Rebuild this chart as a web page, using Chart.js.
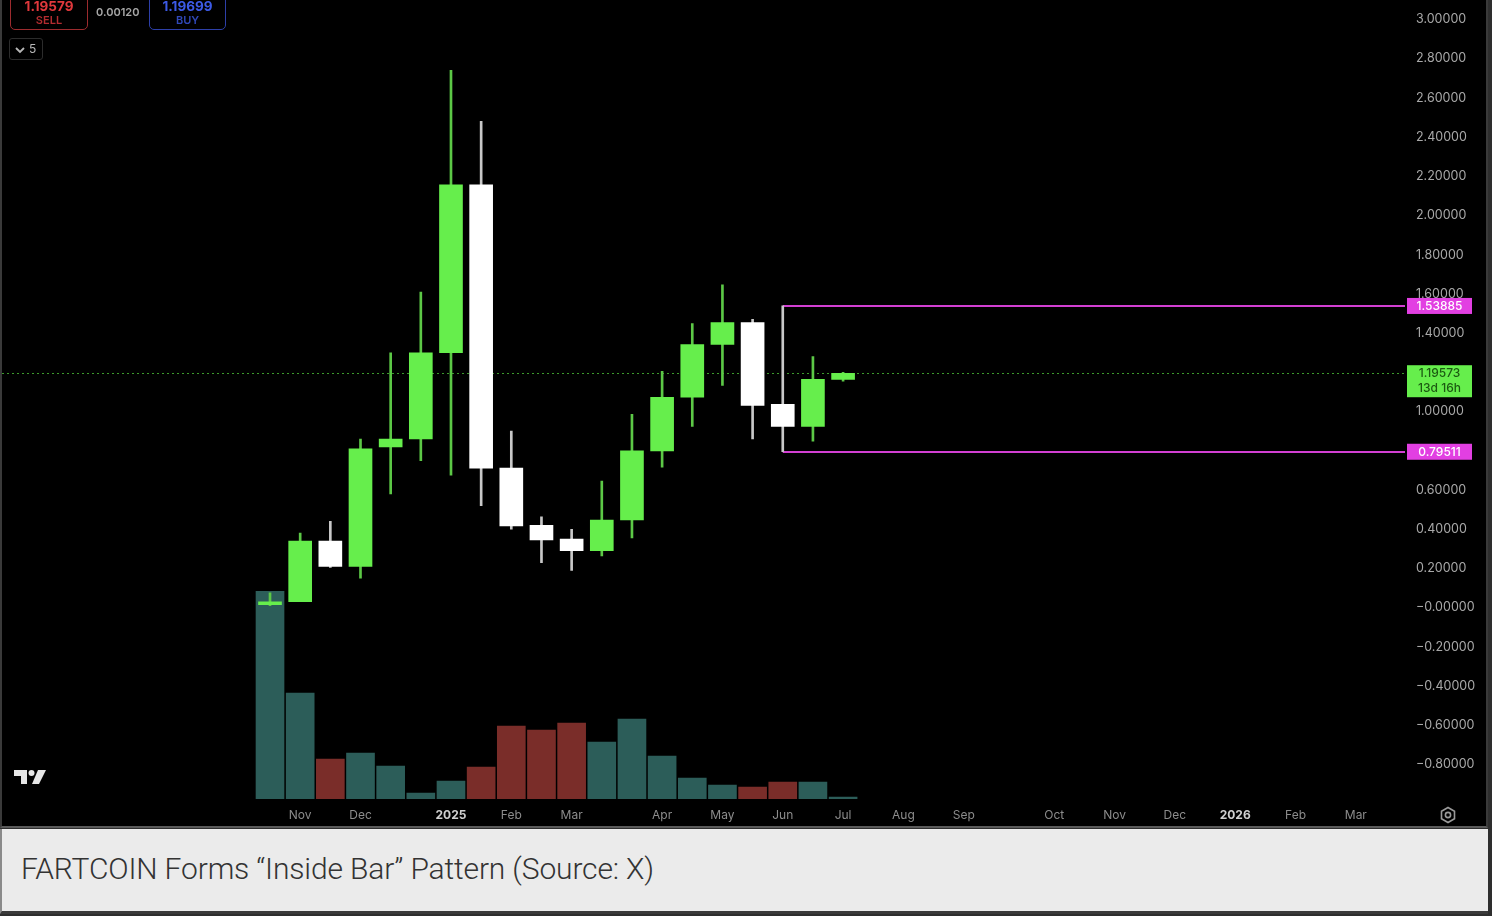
<!DOCTYPE html>
<html>
<head>
<meta charset="utf-8">
<script src="https://cdn.jsdelivr.net/npm/chart.js@4.4.1/dist/chart.umd.min.js"></script>
<style>
  html, body { margin: 0; padding: 0; }
  body { width: 1492px; height: 916px; position: relative; overflow: hidden; background: #2e2e2e; font-family: Inter, "Noto Sans", sans-serif; }
  #panel { position: absolute; left: 0; top: 0; width: 1484px; height: 826px; background: #000; border-left: 2px solid #3a3a3a; border-right: 2px solid #3a3a3a; border-bottom: 2px solid #5a5a5a; overflow: hidden; }
  #wrap { position: absolute; left: 0; top: 0; width: 1484px; height: 826px; }
  .box { position: absolute; border-radius: 5px; text-align: center; font-weight: 700; }
  #sell { left: 8px; top: -8px; width: 76px; height: 36px; border: 1.5px solid #9c2b2e; color: #e0383c; }
  #buy { left: 147px; top: -8px; width: 75px; height: 36px; border: 1.5px solid #2d3fa8; color: #3c5ae6; }
  .box .p { font-size: 13.5px; margin-top: 6px; line-height: 15px; }
  .box .s { font-size: 11px; line-height: 13px; font-weight: 600; opacity: 0.8; }
  #spread { position: absolute; left: 94px; top: 5px; font-size: 11px; color: #a8a8a8; font-weight: 600; }
  #drop { position: absolute; left: 7px; top: 38px; width: 32px; height: 20px; border: 1px solid #2c2c2c; border-radius: 3px; color: #b8b8b8; font-size: 12px; line-height: 20px; }
  #drop span { position: absolute; left: 19px; }
  #logo { position: absolute; left: 10px; top: 767px; }
  #gear { position: absolute; left: 1437px; top: 806px; }
  #caption { position: absolute; left: 0; top: 829px; width: 1486px; height: 82px; background: #ebebeb; border-left: 2px solid #8a8a8a; border-bottom: 3px solid #3a3a3a; }
  #caption div { position: absolute; left: 19px; top: 22px; font-family: Roboto, sans-serif; font-weight: 300; font-size: 30px; color: #333; letter-spacing: -0.15px; }
</style>
</head>
<body>
<div id="panel">
  <div id="wrap"><canvas id="chart"></canvas></div>
  <div id="sell" class="box"><div class="p">1.19579</div><div class="s">SELL</div></div>
  <div id="spread">0.00120</div>
  <div id="buy" class="box"><div class="p">1.19699</div><div class="s">BUY</div></div>
  <div id="drop"><svg width="10" height="8" style="position:absolute;left:5px;top:7px"><path d="M1 2 L5 6 L9 2" stroke="#b8b8b8" stroke-width="1.8" fill="none"/></svg><span>5</span></div>
  <svg id="logo" width="36" height="20" viewBox="0 0 36 20">
    <path d="M2 3 H15 V17 H9 V9 H2 Z" fill="#e6e6e6"/>
    <circle cx="19.5" cy="6" r="3" fill="#e6e6e6"/>
    <path d="M26 3 H34 L27 17 H20 Z" fill="#e6e6e6"/>
  </svg>
  <svg id="gear" width="18" height="18" viewBox="0 0 18 18">
    <path d="M9 1.5 L15.5 5.2 V12.8 L9 16.5 L2.5 12.8 V5.2 Z" stroke="#9a9a9a" stroke-width="1.6" fill="none"/>
    <circle cx="9" cy="9" r="2.6" stroke="#9a9a9a" stroke-width="1.6" fill="none"/>
  </svg>
</div>
<div id="caption"><div>FARTCOIN Forms “Inside Bar” Pattern (Source: X)</div></div>

<script>
// candles, one per slot
const opens  = [0.015, 0.03, 0.34, 0.21, 0.82, 0.86, 1.30, 2.156, 0.712, 0.42, 0.35, 0.29, 0.447, 0.80, 1.073, 1.342, 1.454, 1.037, 0.925, 1.164];
const closes = [0.03, 0.34, 0.21, 0.81, 0.86, 1.30, 2.156, 0.712, 0.417, 0.346, 0.29, 0.447, 0.80, 1.073, 1.342, 1.454, 1.032, 0.925, 1.164, 1.19573];
const highs  = [0.075, 0.38, 0.44, 0.86, 1.30, 1.61, 2.74, 2.48, 0.90, 0.463, 0.40, 0.646, 0.986, 1.205, 1.449, 1.647, 1.47, 1.53885, 1.281, 1.20];
const lows   = [0.01, 0.03, 0.205, 0.15, 0.58, 0.75, 0.676, 0.52, 0.40, 0.229, 0.19, 0.264, 0.356, 0.717, 0.925, 1.134, 0.86, 0.79511, 0.849, 1.155];
const volumes = [1040, 530, 200, 230, 165, 30, 90, 160, 365, 345, 380, 285, 400, 215, 105, 70, 60, 85, 85, 10];

// x axis labels and the slot they sit under
const tickIndex  = [1, 3, 6, 8, 10, 13, 15, 17, 19, 21, 23, 26, 28, 30, 32, 34, 36];
const tickLabels = ['Nov', 'Dec', '2025', 'Feb', 'Mar', 'Apr', 'May', 'Jun', 'Jul', 'Aug', 'Sep', 'Oct', 'Nov', 'Dec', '2026', 'Feb', 'Mar'];
const priceTicks = [3.0, 2.8, 2.6, 2.4, 2.2, 2.0, 1.8, 1.6, 1.4, 1.2, 1.0, 0.8, 0.6, 0.4, 0.2, 0.0, -0.2, -0.4, -0.6, -0.8];

// inside bar range + last price
const zoneStart = 17;
const zoneLevels = [1.53885, 0.79511];
const lastPrice = 1.19573;
const countdown = '13d 16h';

const GREEN = '#66ee4c';
const up = closes.map((c, i) => c >= opens[i]);

function fmtPrice(v) {
  if (Math.abs(v) < 1e-9) return '\u22120.00000';
  return v < 0 ? '\u2212' + Math.abs(v).toFixed(5) : v.toFixed(5);
}

const levelsPlugin = {
  id: 'levels',
  beforeDatasetsDraw(chart) {
    const ctx = chart.ctx, a = chart.chartArea, y = chart.scales.y, x = chart.scales.x;
    ctx.save();
    // last price dotted line
    ctx.strokeStyle = '#3c9a2c';
    ctx.lineWidth = 1;
    ctx.setLineDash([2, 3]);
    const ly = Math.round(y.getPixelForValue(lastPrice)) + 0.5;
    ctx.beginPath(); ctx.moveTo(0, ly); ctx.lineTo(a.right, ly); ctx.stroke();
    ctx.setLineDash([]);
    // inside bar range
    ctx.strokeStyle = '#d23fd2';
    ctx.lineWidth = 2;
    const x0 = x.getPixelForValue(zoneStart);
    zoneLevels.forEach(v => {
      const py = Math.round(y.getPixelForValue(v));
      ctx.beginPath(); ctx.moveTo(x0, py); ctx.lineTo(a.right, py); ctx.stroke();
    });
    ctx.restore();
  },
  afterDraw(chart) {
    const ctx = chart.ctx, a = chart.chartArea, y = chart.scales.y;
    ctx.save();
    ctx.font = '500 12px Inter, sans-serif';
    ctx.textAlign = 'center';
    ctx.textBaseline = 'middle';
    const bx = a.right + 2, bw = 65;
    zoneLevels.forEach(v => {
      const py = y.getPixelForValue(v);
      ctx.fillStyle = '#e23fe2';
      ctx.fillRect(bx, py - 8, bw, 16);
      ctx.fillStyle = '#ffffff';
      ctx.fillText(v.toFixed(5), bx + bw / 2, py + 0.5);
    });
    const py = y.getPixelForValue(lastPrice);
    ctx.fillStyle = GREEN;
    ctx.fillRect(bx, py - 8, bw, 32);
    ctx.fillStyle = '#1c5a12';
    ctx.fillText(lastPrice.toFixed(5), bx + bw / 2, py + 0.5);
    ctx.fillText(countdown, bx + bw / 2, py + 15.5);
    ctx.restore();
  }
};

const idx = opens.map((_, i) => i);

new Chart(document.getElementById('chart'), {
  type: 'bar',
  data: {
    datasets: [
      {
        label: 'body',
        data: idx.map(i => ({ x: i, y: [opens[i], closes[i]] })),
        backgroundColor: up.map(u => u ? GREEN : '#ffffff'),
        barThickness: 23,
        grouped: false,
        yAxisID: 'y',
        order: 1
      },
      {
        label: 'wick',
        data: idx.map(i => ({ x: i, y: [lows[i], highs[i]] })),
        backgroundColor: up.map(u => u ? '#5cc846' : '#c8c8c8'),
        barThickness: 2,
        grouped: false,
        yAxisID: 'y',
        order: 2
      },
      {
        label: 'volume',
        data: idx.map(i => ({ x: i, y: volumes[i] })),
        backgroundColor: up.map(u => u ? '#2c5d59' : '#7a2d29'),
        barThickness: 28,
        grouped: false,
        yAxisID: 'y2',
        order: 3
      }
    ]
  },
  options: {
    responsive: true,
    maintainAspectRatio: false,
    animation: false,
    layout: { padding: 0 },
    plugins: { legend: { display: false }, tooltip: { enabled: false } },
    scales: {
      x: {
        type: 'linear',
        min: -8.886,
        max: 37.63,
        offset: false,
        grid: { display: false, drawTicks: false },
        border: { display: false },
        afterBuildTicks: s => { s.ticks = tickIndex.map(v => ({ value: v })); },
        afterFit: s => { s.height = 27; },
        ticks: {
          padding: 9,
          autoSkip: false,
          maxRotation: 0,
          color: ctx => /^\d{4}$/.test(tickLabels[ctx.index]) ? '#d0d0d0' : '#8c8c8c',
          font: ctx => ({ family: 'Inter, sans-serif', size: 12, weight: /^\d{4}$/.test(tickLabels[ctx.index]) ? 'bold' : 'normal' }),
          callback: (v, i) => tickLabels[i]
        }
      },
      y: {
        position: 'right',
        min: -0.976,
        max: 3.005,
        grid: { display: false, drawTicks: false },
        border: { display: false },
        afterBuildTicks: s => { s.ticks = priceTicks.map(v => ({ value: v })); },
        afterFit: s => { s.width = 81; },
        ticks: {
          padding: 11,
          color: '#a8a8a8',
          font: { family: 'Inter, sans-serif', size: 12.5 },
          callback: v => fmtPrice(v)
        }
      },
      y2: {
        display: false,
        min: 0,
        max: 3910
      }
    }
  },
  plugins: [levelsPlugin]
});
</script>
</body>
</html>
